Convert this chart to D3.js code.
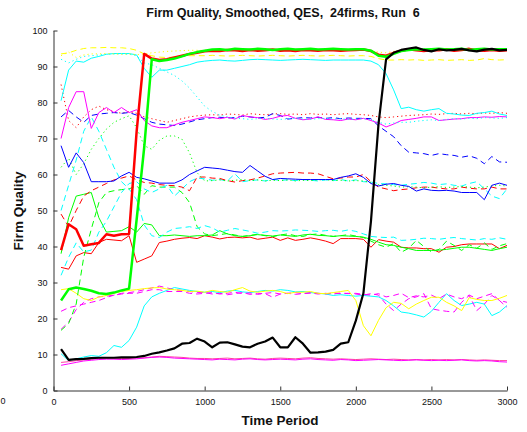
<!DOCTYPE html>
<html>
<head>
<meta charset="utf-8">
<script src="https://cdn.jsdelivr.net/npm/d3@7/dist/d3.min.js"></script>
<style>
  html, body { margin: 0; padding: 0; background: #fff; }
  svg { display: block; }
  text { font-family: "Liberation Sans", Arial, Helvetica, sans-serif; fill: #111; }
</style>
</head>
<body>
<svg id="chart" width="527" height="432"></svg>
<script>
// Time axis: one sample every 50 periods
const timePeriods = d3.range(50, 3001, 50);

const xTicks = [0, 500, 1000, 1500, 2000, 2500, 3000];
const yTicks = [0, 10, 20, 30, 40, 50, 60, 70, 80, 90, 100];

// Smoothed quality of each firm, one value per time sample
const redThick = [
  39, 46.2, 44.8, 40.2, 40.6, 41, 43.4, 43, 43.4, 43.5,
  72, 93.5, 92.2, 91.8, 92, 92.5, 93, 93.5, 93.8, 94.2,
  94.4, 94.3, 94.6, 94.5, 94.3, 94.6, 94.4, 94.5, 94.7, 94.4,
  94.5, 94.3, 94.6, 94.5, 94.4, 94.6, 94.5, 94.4, 94.5, 94.6,
  94.7, 94.3, 93.3, 93, 93.8, 94.4, 94.8, 94.5, 94.3, 94.6,
  94.5, 94.8, 94.4, 94.6, 94.9, 94.5, 94.4, 94.6, 94.4, 94.5];
const greenThick = [
  25, 28.1, 28.6, 28.2, 27.7, 27, 26.8, 27.2, 27.8, 28.3,
  47.5, 67.5, 92, 91.5, 91.8, 92.2, 92.8, 93.5, 94, 94.4,
  94.7, 94.8, 94.6, 94.9, 94.8, 94.7, 94.9, 94.8, 94.6, 94.8,
  94.9, 94.7, 94.8, 94.9, 94.7, 94.8, 94.9, 94.8, 94.7, 94.8,
  94.8, 94.4, 93, 92.7, 93.5, 94.3, 94.6, 94.8, 94.7, 94.8,
  94.9, 94.7, 94.8, 94.9, 94.6, 94.8, 94.9, 94.7, 94.8, 94.8];
const blackThick = [
  11.5, 8.5, 8.7, 8.8, 9, 9.1, 9.1, 9.1, 9.2, 9.2,
  9.3, 9.6, 10.2, 10.6, 11.1, 11.7, 13, 13.2, 14.4, 13.6,
  12, 13.3, 13.4, 12.8, 12.2, 12, 13, 13.6, 14.7, 12,
  12, 14.8, 13, 10.5, 10.6, 10.8, 11.3, 13, 13.4, 19.4,
  27, 47, 74, 92, 93.8, 94.6, 95, 95.3, 94.6, 94.2,
  94.8, 94.5, 94.6, 94.9, 94.5, 94.2, 94.7, 94.9, 94.5, 94.6];
const yellowDashTop = [
  93.5, 93.8, 94.5, 95, 95.2, 95.2, 95.3, 95.2, 95.2, 95,
  94.5, 93.5, 93, 92.6, 92.5, 92.6, 92.8, 93, 93, 93,
  93.1, 93, 92.9, 93, 93.1, 93, 92.9, 93, 93.1, 93,
  92.9, 93, 93.1, 93, 92.9, 93, 93.1, 93, 92.9, 93,
  93, 92.8, 92.2, 91.8, 91.8, 91.9, 91.8, 91.9, 91.7, 91.8,
  91.9, 91.7, 91.8, 91.9, 91.7, 91.8, 92.2, 91.9, 91.8, 91.9];
const yellowDotTop = [
  93, 94, 92.5, 93.2, 93.5, 93.5, 93.6, 93.5, 93.4, 93.5,
  93.3, 93.5, 93.8, 94, 94.2, 94.3, 94.4, 94.5, 94.5, 94.5,
  94.6, 94.5, 94.6, 94.5, 94.6, 94.5, 94.6, 94.5, 94.6, 94.5,
  94.6, 94.5, 94.6, 94.5, 94.6, 94.5, 94.6, 94.5, 94.6, 94.5,
  94.5, 94.3, 94, 93.8, 94.2, 94.5, 94.6, 94.5, 94.6, 94.5,
  94.6, 94.5, 94.6, 94.5, 94.6, 94.5, 94.6, 94.5, 94.6, 94.5];
const cyanTop = [
  80.5, 89, 91.5, 91.2, 92.3, 92.8, 93.4, 93.6, 93.6, 93.6,
  93.2, 89.5, 87, 89, 89, 89.5, 90, 90.5, 91.2, 91.5,
  91.7, 91.8, 91.6, 91.5, 91.7, 91.9, 92, 91.9, 91.8, 91.7,
  91.8, 91.9, 92, 91.9, 91.8, 91.7, 91.8, 91.8, 91.8, 91.8,
  91.8, 91.5, 90.5, 88, 83.5, 78.3, 78.7, 78, 77.6, 78,
  78.3, 77, 76.8, 76.5, 76.4, 77, 77.2, 77.6, 76.8, 76.4];
const cyanDot = [
  92, 91, 92, 92.8, 93, 93.2, 93.4, 93.5, 93.5, 93.4,
  93, 91, 90.5, 89.5, 88.5, 87.5, 86, 84, 81.5, 79,
  77.5, 76.5, 76, 75.6, 75.5, 75.3, 75.5, 75.6, 75.4, 75.3,
  75.5, 75.6, 75.4, 75.3, 75.5, 75.6, 75.4, 75.5, 75.3, 75.4,
  75.5, 75.2, 74.5, 74, 74.3, 74.5, 74.5, 74.8, 75, 75.2,
  75, 75.3, 75.5, 75.4, 75.6, 75.5, 75.8, 75.7, 75.6, 75.8];
const magentaSolid = [
  70, 78.6, 83, 83, 72.8, 77.2, 78.6, 77.2, 78.6, 77.2,
  78, 75, 73.5, 73, 73, 73.8, 74.5, 75, 75.5, 76,
  75.8, 75.5, 75.9, 75.4, 76.4, 76, 75.8, 75.3, 75.6, 76.2,
  76.4, 75.6, 75.2, 75.4, 76, 75.3, 75.2, 75, 75.4, 75.2,
  75.6, 75, 74.3, 73.2, 74, 75, 75.3, 75.6, 76, 76,
  75, 75.2, 75.4, 75.5, 75.8, 75.8, 76, 75.9, 76.1, 76];
const blueDash = [
  76, 77.8, 76, 74.5, 76.4, 76.8, 77, 77.2, 77, 77.2,
  76.5, 75.5, 74.5, 74, 73.8, 73.6, 74, 74.6, 75.2, 75.5,
  75.8, 75.9, 75.7, 75.8, 76.2, 76, 75.7, 75.9, 76.9, 76.4,
  75.4, 75.6, 75.8, 75.7, 75.9, 75.6, 75.8, 75.5, 75.7, 75.6,
  75.6, 75.5, 73.5, 72, 70.5, 68, 66.2, 66, 65.8, 65.3,
  65.8, 65.5, 65.3, 64.8, 65.2, 64.5, 63, 65, 63.5, 63.4];
const redDot = [
  85, 75, 73, 76, 78, 79, 78, 77.5, 77, 77.5,
  77, 76, 75.5, 75, 74.5, 75, 75.5, 76, 76.3, 76.5,
  76.6, 76.5, 76.8, 76.7, 76.5, 76.9, 76.7, 76.6, 76.8, 76.9,
  76.7, 76.8, 76.6, 76.9, 76.7, 76.8, 76.6, 76.8, 76.9, 76.7,
  76.6, 76.4, 76, 75.8, 76, 76.2, 76.4, 76.5, 76.6, 76.8,
  76.7, 76.9, 77, 76.8, 77, 76.9, 77.1, 77, 77.2, 77];
const greenDot = [
  62, 64.5, 60, 63, 67, 70, 72.6, 74.5, 75.5, 76.3,
  73, 68, 67, 69.5, 70.7, 70.7, 69.8, 66, 60.5, 58.2,
  58.3, 58.5, 58.2, 58.4, 58.6, 58.3, 58.5, 58.2, 58.4, 58.3,
  58.5, 58.2, 58.4, 58.3, 58.5, 58.6, 58.3, 58.4, 58.2, 58.3,
  58.2, 57.8, 57.2, 57, 56.8, 56.5, 56.6, 56.5, 56.3, 56.5,
  56.6, 56.4, 56.5, 56.7, 56.5, 56.3, 56.5, 56.8, 57, 56.8];
const blueSolid = [
  68, 62, 66, 63.3, 58, 58, 58, 58.2, 59.6, 60.6,
  59.2, 58.8, 58.2, 57.6, 57.6, 57.6, 58.5, 60, 61, 62,
  61.8, 61.6, 61.2, 60.8, 60.6, 62.5, 61, 59.5, 58.6, 58.9,
  58.8, 58.7, 58.6, 58.6, 58.6, 58.6, 58.6, 59.2, 59.6, 60.2,
  59.2, 57.5, 56.8, 57.3, 57.5, 57, 56.7, 55.4, 56, 55.6,
  55.5, 55.6, 55.4, 55, 55, 55, 53, 57, 57.6, 57];
const redDash = [
  49, 45.5, 50, 54, 55.5, 56.5, 57.5, 58.5, 59, 59.6,
  58.5, 57.8, 57.6, 57.2, 57, 56.9, 56.5, 55.5, 59.3, 59.3,
  59, 58.9, 58.3, 57.9, 58.3, 58.5, 59, 59.6, 60.2, 60.4,
  60.5, 60.6, 60.4, 60.4, 60.2, 59.5, 58.8, 59, 59.3, 59.3,
  60, 58, 56.5, 56, 55.5, 55.8, 56, 56.3, 56.5, 56.5,
  56.2, 56, 56, 56.5, 56.2, 56, 56, 56.5, 56, 56];
const cyanDashA = [
  50, 57, 64, 72, 76, 72, 67, 62, 58, 56,
  53, 46, 43, 42.5, 44, 45, 45.2, 45.5, 45, 45.8,
  45.2, 44, 44.5, 45, 44.6, 44.2, 43.7, 44, 44.4, 44.3,
  44.4, 44.6, 44.5, 44.4, 44.2, 44.4, 44.5, 44.2, 44.6, 44.2,
  43.5, 42.8, 42.6, 42.5, 42.6, 41.7, 41.8, 42, 42.3, 42.2,
  42, 42.3, 42.5, 42.2, 42, 41.8, 42.2, 42, 42.4, 42];
const cyanDashB = [
  32, 37, 41, 38.5, 39, 44, 47, 51, 55, 57.5,
  58, 56, 55, 56, 57, 54, 56, 58, 59, 58.8,
  58.4, 58.6, 58.2, 60.2, 58, 58.3, 58.5, 58.2, 58.6, 58.4,
  58.5, 58.3, 58.6, 58.4, 58.2, 58.5, 58.3, 58.6, 58.2, 58.5,
  58, 57.9, 57.5, 57.4, 57.2, 57, 57.3, 57.5, 57.8, 57.6,
  57.2, 57.4, 57, 56.8, 57.5, 58, 56, 54, 53.3, 56];
const greenDash = [
  16.7, 18.6, 24, 37, 44.8, 52.2, 55, 55.5, 55.8, 56,
  56.9, 54.5, 56.9, 56.5, 56.5, 56.5, 55, 52.2, 45.5, 43.5,
  43, 43.3, 43.6, 43.2, 42.8, 43.1, 43.4, 43, 42.7, 43.2,
  43.5, 43, 42.8, 43.3, 43.5, 43.1, 42.8, 43, 43.3, 42.9,
  42.5, 41.5, 40.5, 39.8, 40.8, 38.4, 39.5, 41.7, 40, 38.5,
  39.2, 41.5, 40.3, 38.9, 40.5, 39.5, 41, 39.2, 40.2, 40.8];
const redThin = [
  34.2, 33.7, 37.4, 38.3, 38, 41.1, 42, 41.8, 41.6, 43,
  35.6, 36.5, 37.4, 41.1, 41.5, 42, 42.3, 42.5, 42.2, 43,
  42.6, 42.1, 42.5, 42.6, 42.4, 42.6, 42, 42.3, 42.6, 41.7,
  42.4, 41.7, 42, 42.4, 42, 41.5, 40.8, 42.2, 42.2, 42.2,
  42, 39.8, 41.9, 41.5, 41.2, 39.8, 39.6, 39.6, 39.4, 39.4,
  38.4, 39.8, 40, 40.5, 40.7, 40.7, 40.7, 40.7, 39.4, 40.3];
const greenThin = [
  38, 48, 54, 54.5, 55, 48, 44, 44.2, 44.4, 45.5,
  44, 46.4, 46, 43, 43, 43.2, 43, 42.8, 43, 43,
  43.2, 44.4, 43.5, 43, 42.8, 43, 43.3, 43.1, 42.9, 43.2,
  43, 42.8, 43.2, 43.4, 43.1, 43, 42.8, 43, 42.9, 42.8,
  42.6, 42, 41.2, 40.5, 40.3, 39.8, 39.4, 38.9, 38.9, 38.9,
  39, 39.2, 39.5, 39.8, 39.8, 39.5, 39.2, 38.9, 39.4, 39.8];
const yellowSolid = [
  28, 28.3, 27, 25.5, 25, 26, 26.4, 27, 27.5, 27.8,
  28, 28.3, 28.5, 28.6, 28.2, 28, 27.8, 27.5, 27.6, 27.3,
  27.8, 27.5, 27.3, 28, 28.6, 27.6, 27.3, 27.6, 27.8, 27.5,
  26.9, 27.3, 27.3, 27.5, 27, 26.9, 27.2, 27.5, 27.8, 25,
  18, 15.2, 19.5, 23, 24.5, 24.2, 22.7, 24, 25, 25.9,
  25.9, 24.5, 23.5, 22.2, 25.8, 25.3, 25, 25, 25.6, 26.4];
const cyanLow = [
  10.2, 8.3, 8.8, 9.3, 9.7, 9.5, 10.5, 12.5, 12, 13.9,
  17.6, 23.5, 26, 27, 27.8, 28.6, 28.2, 27.8, 27.5, 27.3,
  27.5, 27.2, 27.6, 27.8, 27.4, 27.2, 27.5, 27.8, 27.6, 28,
  27.8, 27.4, 27.5, 27.2, 27, 26.8, 26.4, 26.6, 26.4, 26.2,
  26.4, 26.2, 26, 25, 23.5, 21.8, 21.5, 21, 20.4, 22,
  24.5, 26.9, 25, 23.6, 24, 24.5, 24, 20.8, 21.8, 23.6];
const magentaDashA = [
  17, 19, 22.5, 24.5, 25.5, 26, 26.2, 26.5, 26.8, 27,
  27, 27.5, 28, 28, 27.5, 27.5, 27.5, 27, 26.8, 27,
  27.2, 26.8, 27, 27.3, 26.9, 27.1, 26.7, 27, 27.2, 26.8,
  27, 27.2, 26.9, 27.1, 27, 26.8, 27.1, 26.9, 27, 26.8,
  26.5, 26.9, 26.5, 24, 22.2, 24, 25.5, 26, 26.9, 22.7,
  22.3, 22, 21.8, 24.5, 26.4, 22.2, 24, 26.4, 25, 23.1];
const magentaDashB = [
  22, 23, 23.5, 24, 24.5, 25, 25.8, 26.5, 27, 27.2,
  27.5, 28, 28.5, 29, 28.5, 28, 27.8, 27.5, 27.2, 27.2,
  26.8, 27, 26.6, 26.9, 27.2, 26.7, 27, 26.9, 25.9, 26.8,
  27, 26.7, 26.9, 27.1, 26.8, 27, 26.8, 27.1, 26.9, 27,
  26.7, 26.5, 26.9, 26, 26.4, 27, 25.8, 26.3, 26, 26.5,
  25.5, 26.8, 26, 25.5, 26.5, 25.5, 26.2, 26.9, 25, 24.5];
const magentaLowA = [
  7, 7.4, 7.8, 8.2, 8.4, 8.6, 8.7, 8.7, 8.6, 8.7,
  8.8, 9, 9.2, 9.3, 9.2, 9, 8.9, 8.8, 8.7, 8.6,
  8.5, 8.7, 8.6, 8.5, 8.7, 8.8, 8.6, 8.5, 8.6, 8.7,
  8.6, 8.5, 8.7, 8.8, 8.6, 8.5, 8.4, 8.6, 8.5, 8.3,
  8.4, 8.5, 8.6, 8.5, 8.4, 8.3, 8.4, 8.5, 8.4, 8.3,
  8.4, 8.3, 8.4, 8.5, 8.3, 8.2, 8.3, 8.2, 8, 7.9];
const magentaLowB = [
  7.8, 8, 8.3, 8.5, 8.7, 8.9, 9, 9, 8.9, 8.9,
  9, 9.1, 9.3, 9.5, 9.4, 9.3, 9.2, 9, 8.9, 8.9,
  8.8, 8.9, 9, 8.8, 8.9, 9, 8.8, 8.7, 8.9, 9,
  8.9, 8.8, 9, 9.1, 8.9, 8.8, 8.7, 8.8, 8.7, 8.6,
  8.7, 8.8, 8.7, 8.6, 8.7, 8.6, 8.5, 8.6, 8.5, 8.6,
  8.5, 8.6, 8.5, 8.6, 8.5, 8.4, 8.5, 8.4, 8.3, 8.3];

// Line styles (drawing order: thin lines first, bold leaders on top)
const DASH = "6,4", DOT = "1.2,3";
const firms = [
  { v: magentaLowB, c: "#ff3fa0", w: 1, d: null },
  { v: magentaLowA, c: "#ff00ff", w: 1, d: null },
  { v: cyanLow, c: "#00ffff", w: 1, d: null },
  { v: magentaDashB, c: "#ff00ff", w: 1, d: DASH },
  { v: magentaDashA, c: "#ff00ff", w: 1, d: DASH },
  { v: yellowSolid, c: "#ffff00", w: 1, d: null },
  { v: redThin, c: "#ff0000", w: 1, d: null },
  { v: greenThin, c: "#00ff00", w: 1, d: null },
  { v: greenDash, c: "#00ff00", w: 1, d: DASH },
  { v: cyanDashA, c: "#00ffff", w: 1, d: DASH },
  { v: cyanDashB, c: "#00ffff", w: 1, d: DASH },
  { v: redDash, c: "#ff0000", w: 1, d: DASH },
  { v: greenDot, c: "#00ff00", w: 1, d: DOT },
  { v: blueSolid, c: "#0000ff", w: 1, d: null },
  { v: redDot, c: "#ff0000", w: 1, d: DOT },
  { v: blueDash, c: "#0000ff", w: 1, d: DASH },
  { v: magentaSolid, c: "#ff00ff", w: 1, d: null },
  { v: cyanDot, c: "#00ffff", w: 1, d: DOT },
  { v: cyanTop, c: "#00ffff", w: 1, d: null },
  { v: yellowDotTop, c: "#ffff00", w: 1, d: DOT },
  { v: yellowDashTop, c: "#ffff00", w: 1, d: DASH },
  { v: redThick, c: "#ff0000", w: 2.5, d: null },
  { v: greenThick, c: "#00ff00", w: 2.5, d: null },
  { v: blackThick, c: "#000000", w: 2.2, d: null }
];

const svg = d3.select("#chart");
const x = d3.scaleLinear().domain([0, 3000]).range([53.5, 507]);
const y = d3.scaleLinear().domain([0, 100]).range([390.5, 30.5]);

// Series lines
const line = d3.line()
  .x((d, i) => x(timePeriods[i]))
  .y(d => y(d));

const plot = svg.append("g");
firms.forEach(f => {
  plot.append("path")
    .datum(f.v)
    .attr("d", line)
    .attr("fill", "none")
    .attr("stroke", f.c)
    .attr("stroke-width", f.w)
    .attr("stroke-linejoin", "round")
    .attr("stroke-dasharray", f.d);
});

// Axes with inward ticks
const axisColor = "#333";
const xAxis = svg.append("g")
  .attr("transform", `translate(0,${y(0)})`)
  .call(d3.axisBottom(x).tickValues(xTicks).tickFormat(d3.format("d"))
    .tickSizeInner(-4).tickSizeOuter(0).tickPadding(8));
const yAxis = svg.append("g")
  .attr("transform", `translate(${x(0)},0)`)
  .call(d3.axisLeft(y).tickValues(yTicks).tickFormat(d3.format("d"))
    .tickSizeInner(-4).tickSizeOuter(0).tickPadding(6));

[xAxis, yAxis].forEach(g => {
  g.select(".domain").attr("stroke", axisColor);
  g.selectAll(".tick line").attr("stroke", axisColor);
  g.selectAll(".tick text")
    .attr("fill", "#111")
    .style("font-family", "'Liberation Sans', Arial, sans-serif")
    .style("font-size", "9px");
});

// Titles
svg.append("text")
  .attr("x", 283).attr("y", 17)
  .attr("text-anchor", "middle")
  .style("font-size", "12.5px").style("font-weight", "bold")
  .style("white-space", "pre")
  .text("Firm Quality, Smoothed, QES,  24firms, Run  6");

svg.append("text")
  .attr("x", 280).attr("y", 425)
  .attr("text-anchor", "middle")
  .style("font-size", "13.5px").style("font-weight", "bold")
  .text("Time Period");

svg.append("text")
  .attr("transform", "translate(23,211) rotate(-90)")
  .attr("text-anchor", "middle")
  .style("font-size", "13.5px").style("font-weight", "bold")
  .text("Firm Quality");

// Small label at the lower-left edge
svg.append("text")
  .attr("x", 0.5).attr("y", 404)
  .style("font-size", "9px")
  .text("0");
</script>
</body>
</html>
